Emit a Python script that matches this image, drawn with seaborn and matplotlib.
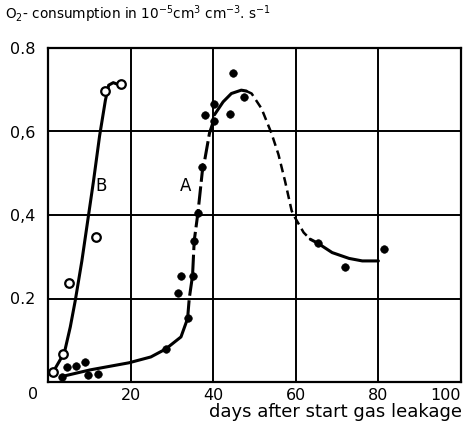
import matplotlib
matplotlib.use("Agg")
import matplotlib.pyplot as plt
import seaborn as sns

# measured points, series A (filled dots)
a_days = [3.3, 4.6, 6.8, 8.9, 9.8, 12.0, 28.5, 31.4, 32.2, 33.8, 35.0, 35.4,
          36.3, 37.3, 38.0, 40.1, 40.3, 44.1, 44.8, 47.5, 65.4, 71.8, 81.4]
a_vals = [0.011, 0.035, 0.038, 0.047, 0.017, 0.019, 0.079, 0.213, 0.255, 0.153,
          0.255, 0.338, 0.405, 0.515, 0.640, 0.665, 0.624, 0.641, 0.739, 0.683,
          0.332, 0.276, 0.318]

# measured points, series B (open circles)
b_days = [1.3, 3.7, 5.1, 11.6, 13.9, 17.6]
b_vals = [0.025, 0.066, 0.236, 0.348, 0.697, 0.713]

# hand-drawn curves
b_curve_x = [1.3, 3.7, 4.1, 5.4, 6.6, 8.2, 11.0, 12.5, 13.9, 14.7, 15.8, 16.6]
b_curve_y = [0.025, 0.066, 0.076, 0.132, 0.195, 0.29, 0.48, 0.59, 0.675, 0.711, 0.717, 0.714]

a_low_x = [3.3, 10.2, 19.6, 24.9, 28.5, 32.2, 33.8]
a_low_y = [0.013, 0.029, 0.046, 0.060, 0.079, 0.108, 0.152]
a_rise_x = [33.8, 34.2, 35.0, 35.4, 36.3, 37.5, 37.9, 39.1, 39.9, 40.3]
a_rise_y = [0.152, 0.200, 0.255, 0.338, 0.405, 0.517, 0.529, 0.596, 0.620, 0.624]
a_peak_x = [40.3, 42.4, 44.4, 46.8, 48.0]
a_peak_y = [0.640, 0.671, 0.691, 0.699, 0.697]
a_fall_x = [48.0, 49.3, 51.7, 54.1, 55.8, 57.4, 59.0, 59.8, 61.9, 63.5]
a_fall_y = [0.697, 0.691, 0.655, 0.596, 0.545, 0.481, 0.410, 0.394, 0.358, 0.342]
a_tail_x = [63.5, 65.4, 68.8, 72.9, 76.1, 79.3, 80.0]
a_tail_y = [0.342, 0.332, 0.310, 0.296, 0.290, 0.290, 0.290]

x_ticks = [20, 40, 60, 80, 100]
y_ticks = [0.2, 0.4, 0.6, 0.8]
y_tick_labels = ["0.2", "0,4", "0,6", "0.8"]

sns.set_style("white")
plt.rcParams['font.family'] = ['DejaVu Sans']
plt.rcParams['text.color'] = 'black'
plt.rcParams['xtick.color'] = 'black'
plt.rcParams['ytick.color'] = 'black'

fig = plt.figure(figsize=(4.69, 4.23), dpi=100)
ax = fig.add_axes([48 / 469, 41 / 423, 413 / 469, 334 / 423])

lw = 2.2
sns.lineplot(x=b_curve_x, y=b_curve_y, ax=ax, color="black", lw=lw, sort=False, estimator=None)
sns.lineplot(x=a_low_x, y=a_low_y, ax=ax, color="black", lw=lw, sort=False, estimator=None)
sns.lineplot(x=a_rise_x, y=a_rise_y, ax=ax, color="black", lw=lw, sort=False,
             estimator=None, linestyle=(0, (6, 1.5)))
sns.lineplot(x=a_peak_x, y=a_peak_y, ax=ax, color="black", lw=lw, sort=False, estimator=None)
sns.lineplot(x=a_fall_x, y=a_fall_y, ax=ax, color="black", lw=1.8, sort=False,
             estimator=None, linestyle=(0, (3.5, 2)))
sns.lineplot(x=a_tail_x, y=a_tail_y, ax=ax, color="black", lw=lw, sort=False, estimator=None)

sns.scatterplot(x=a_days, y=a_vals, ax=ax, color="black", s=30, edgecolor="black", zorder=5)
sns.scatterplot(x=b_days, y=b_vals, ax=ax, facecolor="white", edgecolor="black",
                s=38, linewidth=1.6, zorder=5)

ax.text(12.9, 0.47, "B", fontsize=12, ha="center", va="center")
ax.text(33.4, 0.47, "A", fontsize=12, ha="center", va="center")

ax.set_xlim(0, 100)
ax.set_ylim(0, 0.8)
ax.set_xticks(x_ticks)
ax.set_yticks(y_ticks)
ax.set_yticklabels(y_tick_labels)
ax.tick_params(axis="both", length=0, labelsize=11.5, labelcolor="black")
ax.tick_params(axis="x", pad=4)
ax.tick_params(axis="y", pad=9)
ax.get_xticklabels()[-1].set_horizontalalignment("right")
ax.grid(True, color="black", lw=1.4)
for s in ax.spines.values():
    s.set_color("black")
    s.set_linewidth(1.6)

ax.text(-0.025, -0.015, "0", transform=ax.transAxes, fontsize=11.5, ha="right", va="top")
fig.text(5 / 469, 1 - 14 / 423,
         r"O$_2$- consumption in 10$^{-5}$cm$^3$ cm$^{-3}$. s$^{-1}$",
         fontsize=9.8, ha="left", va="center")
fig.text(462 / 469, 1 - 412 / 423, "days after start gas leakage",
         fontsize=13, ha="right", va="center")

fig.savefig("out.png", dpi=100)
